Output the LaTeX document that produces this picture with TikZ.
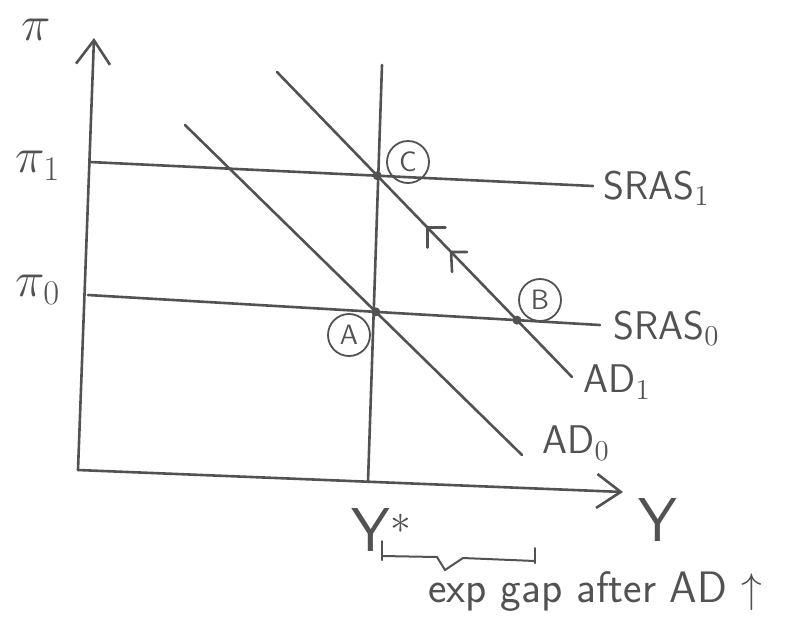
\documentclass[tikz,border=0pt]{standalone}
\usepackage{amsmath}
\usepackage{amssymb}
\usetikzlibrary{calc, intersections, arrows.meta}
\colorlet{pencil}{black!68}

\begin{document}
\begin{tikzpicture}[x=0.5pt, y=-0.5pt, font=\sffamily, line cap=round,
    pencil line/.style={draw=pencil, line width=1.3pt},
    axis arrow/.style={pencil line, -{Straight Barb[length=12pt, width=17pt, line width=1.3pt]}},
    curve label/.style={text=pencil, anchor=west, inner sep=0pt,
        font=\sffamily\fontsize{20}{24}\selectfont},
    axis label/.style={text=pencil, inner sep=0pt, font=\sffamily\fontsize{31}{36}\selectfont},
    pi label/.style={text=pencil, inner sep=0pt, font=\fontsize{26}{30}\selectfont},
    point label/.style={draw=pencil, circle, line width=0.9pt, minimum size=21pt,
        inner sep=0pt, text=pencil, font=\sffamily\fontsize{14}{16}\selectfont}]

    \useasboundingbox (0,0) rectangle (793,634);

    % 1. Define the coordinates
    \coordinate (O) at (78,470);
    \coordinate (Ytop) at (94,38);
    \coordinate (Xend) at (623,492);
    \coordinate (Vtop) at (382,65);
    \coordinate (Vbot) at (368,482);
    \coordinate (S1L) at (90,162);
    \coordinate (S1R) at (593,186);
    \coordinate (S0L) at (88,295);
    \coordinate (S0R) at (600,325);
    \coordinate (D0s) at (185,125);
    \coordinate (D0e) at (522,455);
    \coordinate (D1s) at (277,72);
    \coordinate (D1e) at (572,377);

    % 2. Draw the axes
    \draw[axis arrow] (O) -- (Ytop);
    \draw[axis arrow] (O) -- (Xend);

    % 3. Draw the long-run line and the SRAS lines
    \draw[pencil line] (Vtop) -- (Vbot);
    \draw[pencil line, name path=sras1] (S1L) -- (S1R);
    \draw[pencil line, name path=sras0] (S0L) -- (S0R);

    % 4. Draw the AD lines
    \draw[pencil line, name path=ad0] (D0s) -- (D0e);
    \draw[pencil line, name path=ad1] (D1s) -- (D1e);

    % 5. Find the equilibria
    \path[name intersections={of=ad0 and sras0, by=A}];
    \path[name intersections={of=ad1 and sras0, by=B}];
    \path[name intersections={of=ad1 and sras1, by=C}];

    % 6. Plot the points and label them
    \fill[pencil] (A) circle (4.5);
    \fill[pencil] (B) circle (4.5);
    \fill[pencil] (C) circle (4.5);
    \node[point label] (lA) at (349,335) {A};
    \node[point label] (lB) at (540,300) {B};
    \node[point label] (lC) at (408,162) {C};

    % 7. Arrows up along AD1
    \coordinate (T1) at ($(D1s)!0.51!(D1e)$);
    \coordinate (T2) at ($(D1s)!0.59!(D1e)$);
    \draw[pencil line] ($(T1)+(18,0)$) -- (T1) -- ($(T1)+(0,20)$);
    \draw[pencil line] ($(T2)+(16,0)$) -- (T2) -- ($(T2)+(1,20)$);

    % 8. Labels of the lines
    \node[curve label] (lS1) at (603,188) {SRAS$_1$};
    \node[curve label] (lS0) at (613,328) {SRAS$_0$};
    \node[curve label] (lD1) at (583,382) {AD$_1$};
    \node[curve label] (lD0) at (542,443) {AD$_0$};

    % 9. Axis labels
    \node[pi label] (lpi) at (36,30) {$\pi$};
    \node[pi label] (lpi1) at (38,166) {$\pi_1$};
    \node[pi label] (lpi0) at (38,290) {$\pi_0$};
    \node[axis label] (lY) at (658,520) {Y};
    \node[axis label] (lYs) at (382,530) {Y$^{\ast}$};

    % 10. The output gap brace
    \coordinate (G1) at (382,556);
    \coordinate (G2) at (535,561);
    \draw[pencil line, line width=1pt] ($(G1)+(0,-15)$) -- ($(G1)+(0,4)$);
    \draw[pencil line, line width=1pt] ($(G2)+(0,-13)$) -- ($(G2)+(0,2)$);
    \draw[pencil line, line width=1pt] (G1) -- (437,557) -- (445,570) -- (463,558) -- (G2);
    \node[text=pencil, font=\sffamily\fontsize{22}{26}\selectfont] (gap) at (595,592)
        {exp gap after AD $\uparrow$};

\end{tikzpicture}
\end{document}
